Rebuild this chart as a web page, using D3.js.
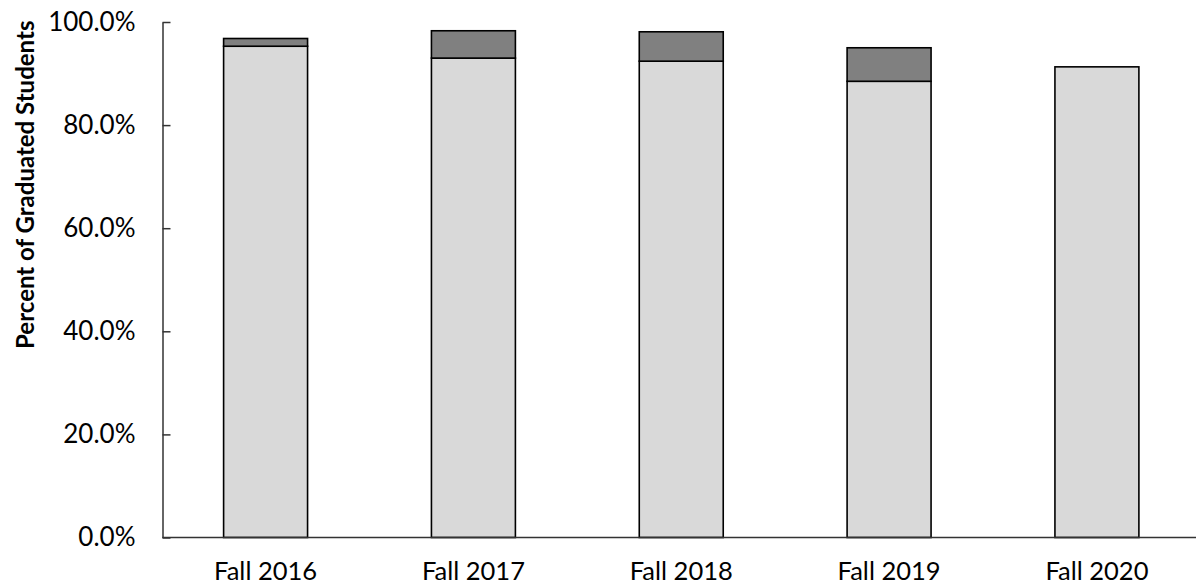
<!DOCTYPE html>
<html><head><meta charset="utf-8">
<script src="https://cdn.jsdelivr.net/npm/d3@7"></script>
<style>body{margin:0;background:#fff}svg{display:block}text{font-family:Lato,"Open Sans",sans-serif}</style>
</head><body><svg id="c" width="1196" height="586"></svg>
<script>
const categories = ["Fall 2016","Fall 2017","Fall 2018","Fall 2019","Fall 2020"];
const lowerValues = [95.3, 93.0, 92.4, 88.5, 91.3];
const upperValues = [1.5, 5.3, 5.7, 6.5, 0];
const yTicks = [0,20,40,60,80,100];

const svg = d3.select("#c");
const x0 = 162.5, yBottom = 537.5, yTop = 22;
const x = d3.scaleBand().domain(categories).range([x0, 1200]).paddingInner(0.596).paddingOuter(0.294);
const y = d3.scaleLinear().domain([0,100]).range([yBottom, yTop]);

const data = categories.map((c,i)=>({c, a:lowerValues[i], b:upperValues[i]}));
const g = svg.append("g");
data.forEach(d=>{
  g.append("rect").attr("x", x(d.c)).attr("width", x.bandwidth())
    .attr("y", y(d.a)).attr("height", y(0)-y(d.a))
    .attr("fill","#d9d9d9").attr("stroke","#000").attr("stroke-width",1.6);
  if (d.b>0) g.append("rect").attr("x", x(d.c)).attr("width", x.bandwidth())
    .attr("y", y(d.a+d.b)).attr("height", y(d.a)-y(d.a+d.b))
    .attr("fill","#808080").attr("stroke","#000").attr("stroke-width",1.6);
});

const ya = svg.append("g").attr("transform",`translate(${x0},0)`)
  .call(d3.axisLeft(y).tickValues(yTicks).tickFormat(v=>v.toFixed(1)+"%").tickSize(-8).tickSizeOuter(0).tickPadding(27));
ya.selectAll("text").attr("font-size",26).attr("fill","#000");
ya.selectAll("line,path").attr("stroke","#333").attr("stroke-width",1.5);

const xa = svg.append("g").attr("transform",`translate(0,${yBottom})`)
  .call(d3.axisBottom(x).tickSize(0).tickPadding(24));
xa.select(".domain").attr("d",`M${x0},0H1196`).attr("stroke","#333").attr("stroke-width",1.5);
xa.selectAll("text").attr("font-size",25.5).attr("fill","#000");

svg.append("text").attr("transform",`translate(34,${(yTop+yBottom)/2 - 95}) rotate(-90)`)
  .attr("text-anchor","middle").attr("font-size",24).attr("font-weight","bold").text("Percent of Graduated Students");
</script></body></html>
